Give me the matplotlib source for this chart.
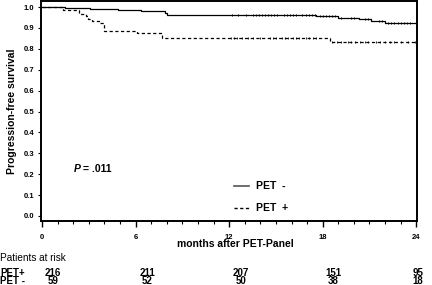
import numpy as np
import matplotlib
matplotlib.use("Agg")
import matplotlib.pyplot as plt
from matplotlib.ticker import MultipleLocator

plt.rcParams['font.family'] = ['Liberation Sans', 'DejaVu Sans']
plt.rcParams['lines.scale_dashes'] = False

# ---- data ----
neg_times = [0, 1.45, 3.1, 4.9, 6.35, 7.9, 8.0, 17.6, 19.0, 20.3, 21.1, 22.0]
neg_surv = [1.0, 0.997, 0.990, 0.986, 0.981, 0.970, 0.962, 0.956, 0.949, 0.941, 0.935, 0.925]
neg_censor = [12.2, 12.6, 13.1, 13.5, 13.7, 13.9, 14.1, 14.3, 14.5, 14.7, 14.9, 15.1,
              15.5, 15.7, 15.9, 16.1, 16.3, 16.7, 16.9, 17.1, 17.3, 17.5, 17.8, 18.0,
              18.2, 18.4, 18.6, 18.8, 19.2, 19.8, 20.0, 20.7, 20.9, 21.6, 21.8,
              22.2, 22.4, 22.6, 22.8, 23.0, 23.2, 23.4, 23.6]
pos_times = [0, 1.35, 2.4, 2.8, 2.95, 3.2, 3.7, 4.0, 6.1, 7.7, 18.5]
pos_surv = [1.0, 0.985, 0.967, 0.958, 0.943, 0.934, 0.922, 0.885, 0.874, 0.852, 0.834]
pos_censor = [12.1, 12.3, 12.5, 12.8, 13.2, 13.5, 14.0, 14.6, 14.8, 15.0, 15.4, 15.6,
              15.8, 16.1, 16.3, 16.5, 16.9, 17.1, 17.4, 17.6, 18.6, 18.9, 19.2, 19.6,
              19.8, 20.1, 20.4, 20.7, 20.9, 21.4, 21.7, 22.0, 22.3, 22.6, 23.0, 23.5, 23.9]

x_ticks = [0, 6, 12, 18, 24]
risk_rows = ["PET+", "PET -"]
risk_pos = [216, 211, 207, 151, 95]
risk_neg = [59, 52, 50, 38, 18]
p_text = "= .011"

# ---- figure ----
fig = plt.figure(figsize=(4.32, 2.85), dpi=100)
ax = fig.add_axes([40.5/432, 1 - 221/285, (417 - 40.5)/432, 220/285])

def step_val(times, surv, t):
    idx = np.searchsorted(times, t, side='right') - 1
    return np.asarray(surv)[idx]

end = 24.0
ax.step(neg_times + [end], neg_surv + [neg_surv[-1]], where='post', color='black', lw=0.9)
ax.step(pos_times + [end], pos_surv + [pos_surv[-1]], where='post', color='black', lw=0.9,
        linestyle=(0, (2.3, 1.8)))
ax.plot(neg_censor, step_val(neg_times, neg_surv, neg_censor), linestyle='none',
        marker='|', markersize=1.6, color='black', markeredgewidth=0.7)
ax.plot(pos_censor, step_val(pos_times, pos_surv, pos_censor), linestyle='none',
        marker='|', markersize=1.4, color='black', markeredgewidth=0.6)

ax.set_xlim(-0.1, 24.05)
ax.set_ylim(-0.024, 1.029)
for s in ax.spines.values():
    s.set_linewidth(1.4)

ax.set_xticks(x_ticks)
ax.xaxis.set_minor_locator(MultipleLocator(1))
ax.set_yticks(np.round(np.arange(0, 1.01, 0.1), 1))
ax.set_yticklabels([f"{v:.1f}" for v in np.arange(0, 1.01, 0.1)])
ax.tick_params(axis='x', which='major', length=4, width=1.0, pad=5.5, labelsize=5.5)
ax.tick_params(axis='x', which='minor', length=2, width=0.8)
ax.tick_params(axis='y', which='major', length=2.5, width=0.8, pad=2, labelsize=5.5)
for lab in ax.get_xticklabels() + ax.get_yticklabels():
    lab.set_fontweight('bold')

ax.set_ylabel("Progression-free survival", fontsize=7.5, fontweight='bold', labelpad=5)
fig.text(235/432, 1 - 244/285, "months after PET-Panel", fontsize=7.5, fontweight='bold',
         ha='center', va='center')

# P value
fig.text(74/432, 1 - 169/285, "P", fontsize=7.5, fontweight='bold', fontstyle='italic',
         ha='left', va='center')
fig.text(83/432, 1 - 169/285, p_text, fontsize=7.5, fontweight='bold', ha='left', va='center')

# legend
fig.add_artist(plt.Line2D([234/432, 249/432], [1 - 186/285, 1 - 186/285], color='#555555', lw=1.2))
fig.add_artist(plt.Line2D([234/432, 249/432], [1 - 208/285, 1 - 208/285], color='black', lw=1.0,
                          linestyle=(0, (2.3, 1.8))))
fig.text(256/432, 1 - 186/285, "PET  -", fontsize=7.5, fontweight='bold', ha='left', va='center')
fig.text(256/432, 1 - 208/285, "PET  +", fontsize=7.5, fontweight='bold', ha='left', va='center')

# patients at risk
fig.text(0, 1 - 258/285, "Patients at risk", fontsize=7.2, ha='left', va='center')
col_x = [53, 147, 241, 333, 418]
row_y = [273, 281]
for r, (name, vals) in enumerate(zip(risk_rows, [risk_pos, risk_neg])):
    fig.text(0, 1 - row_y[r]/285, name, fontsize=7.0, fontweight='bold', ha='left', va='center')
    for cx, v in zip(col_x, vals):
        fig.text(cx/432, 1 - row_y[r]/285, str(v), fontsize=7.0, fontweight='bold',
                 ha='center', va='center')

fig.savefig("out.png", dpi=100)
